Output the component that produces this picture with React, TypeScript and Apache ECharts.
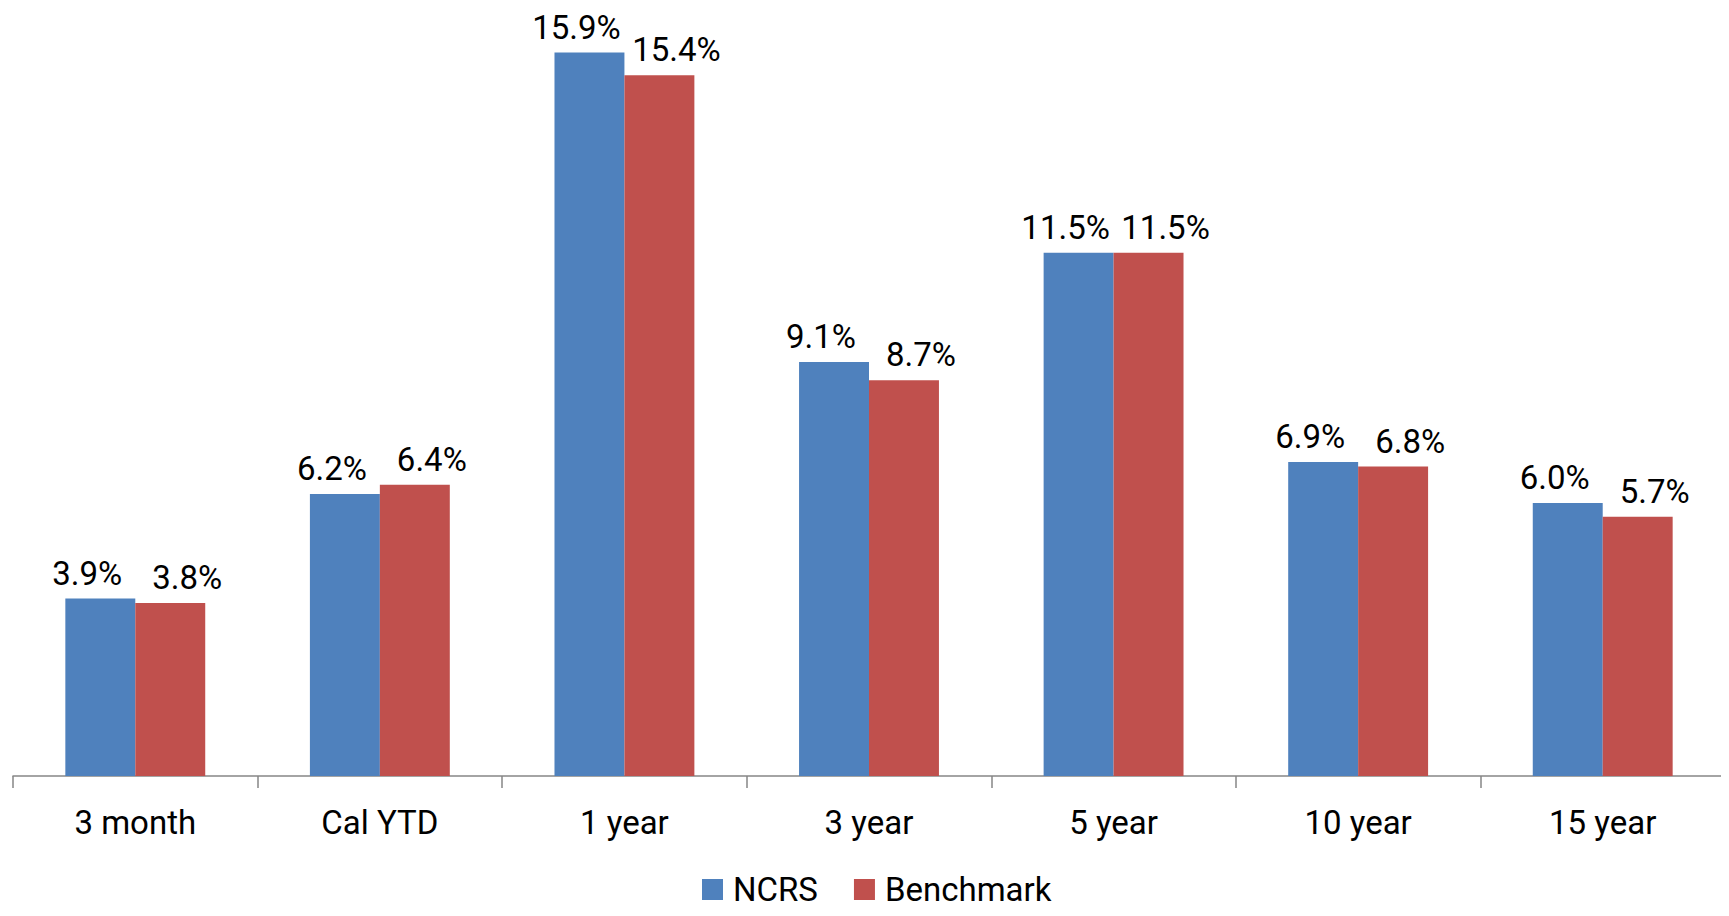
import React, { useEffect, useRef } from "react";
import * as echarts from "echarts";

const categories = ["3 month", "Cal YTD", "1 year", "3 year", "5 year", "10 year", "15 year"];
const ncrs = [3.9, 6.2, 15.9, 9.1, 11.5, 6.9, 6.0];
const benchmark = [3.8, 6.4, 15.4, 8.7, 11.5, 6.8, 5.7];

const FONT = "Roboto, 'Liberation Sans', sans-serif";
const FS = 33;

export default function App() {
  const ref = useRef<HTMLDivElement>(null);
  useEffect(() => {
    if (!ref.current) return;
    const chart = echarts.init(ref.current, undefined, { renderer: "svg" });
    const labelBase = {
      show: true,
      position: "top" as const,
      distance: 9,
      color: "#000",
      fontSize: FS,
      fontFamily: FONT,
      formatter: (p: any) => Number(p.value).toFixed(1) + "%",
    };
    chart.setOption({
      animation: false,
      textStyle: { fontFamily: FONT },
      grid: { left: 13, right: 4, top: 48, bottom: 140 },
      legend: {
        top: 868,
        left: 697,
        itemWidth: 21,
        itemHeight: 21,
        itemGap: 36,
        icon: "rect",
        textStyle: { fontSize: FS, color: "#000", fontFamily: FONT, padding: [0, 0, 0, 5] },
        data: ["NCRS", "Benchmark"],
      },
      xAxis: {
        type: "category",
        data: categories,
        axisLine: { lineStyle: { color: "#868686", width: 1.5 } },
        axisTick: { show: true, length: 12, lineStyle: { color: "#868686", width: 1.5 } },
        axisLabel: { color: "#000", fontSize: FS, fontFamily: FONT, margin: 30 },
      },
      yAxis: {
        type: "value",
        min: 0,
        max: 16,
        show: false,
        splitLine: { show: false },
      },
      series: [
        {
          name: "NCRS",
          type: "bar",
          data: ncrs,
          barGap: "0%",
          barCategoryGap: "42.8%",
          itemStyle: { color: "#4F81BD" },
          label: { ...labelBase, offset: [-13, 0] },
        },
        {
          name: "Benchmark",
          type: "bar",
          data: benchmark,
          barGap: "0%",
          barCategoryGap: "42.8%",
          itemStyle: { color: "#C0504D" },
          label: { ...labelBase, offset: [17, 0] },
        },
      ],
    });
    return () => chart.dispose();
  }, []);
  return <div ref={ref} style={{ width: 1729, height: 916, margin: -8 }} />;
}
